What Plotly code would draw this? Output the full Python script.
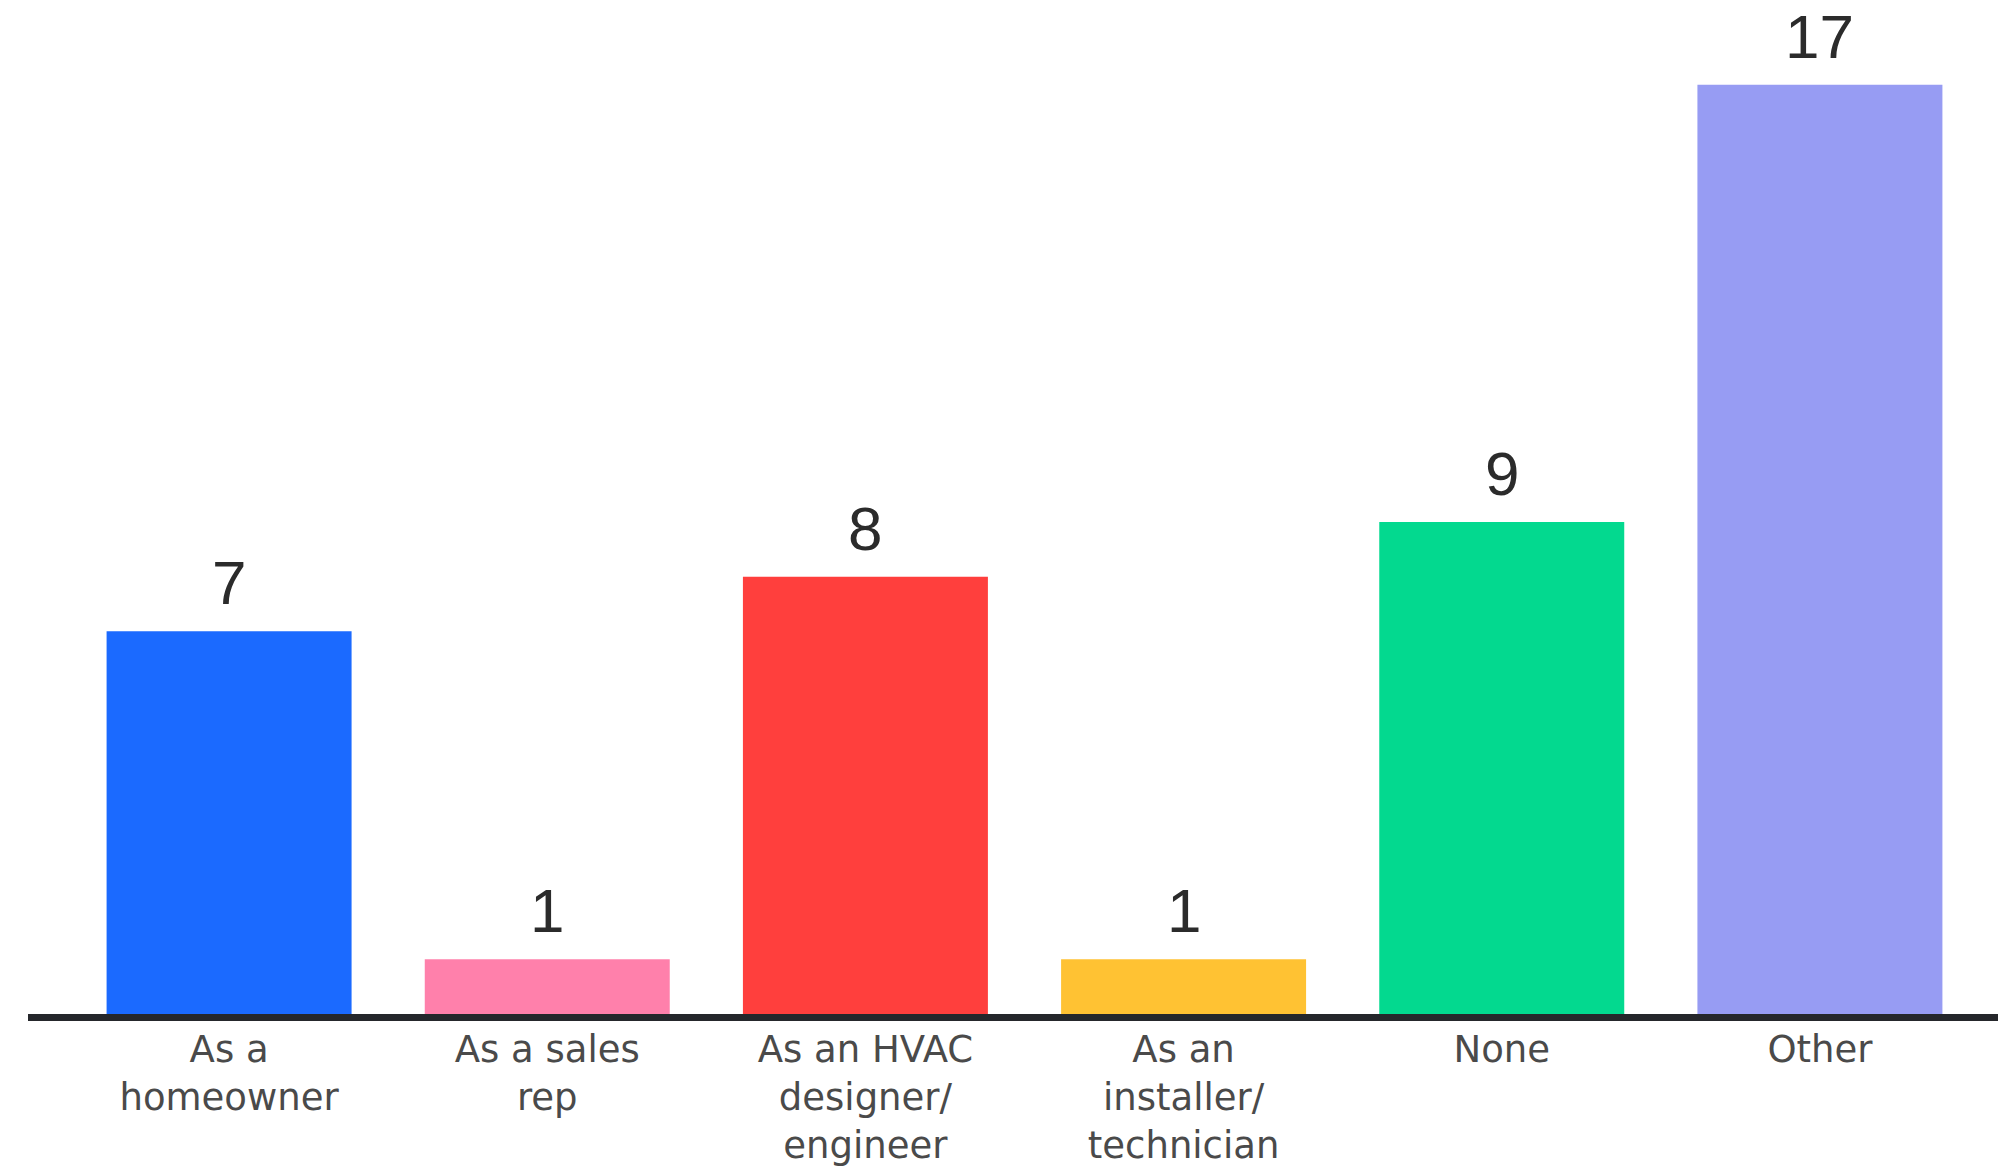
import plotly.graph_objects as go

# Survey responses by role
categories = [
    "As a<br>homeowner",
    "As a sales<br>rep",
    "As an HVAC<br>designer/<br>engineer",
    "As an<br>installer/<br>technician",
    "None",
    "Other",
]
counts = [7, 1, 8, 1, 9, 17]
bar_colors = ["#1B6AFF", "#FF80AB", "#FF3F3D", "#FFC233", "#03D98F", "#979CF3"]

W, H = 1998, 1171
margin = dict(l=70, r=19, t=30, b=157)
plot_w = W - margin["l"] - margin["r"]
plot_h = H - margin["t"] - margin["b"]

fig = go.Figure(
    go.Bar(
        x=categories,
        y=counts,
        marker=dict(color=bar_colors, line=dict(width=0)),
        hoverinfo="skip",
    )
)

# Value labels above each bar
for cat, val in zip(categories, counts):
    fig.add_annotation(
        x=cat, y=val, text=str(val), showarrow=False,
        xref="x", yref="y", yanchor="bottom", yshift=12,
        font=dict(family="Liberation Sans, Arial, sans-serif", size=62, color="#2b2b2b"),
    )

# Dark baseline running across the full width
fig.add_shape(
    type="line", xref="paper", yref="paper",
    x0=(28 - margin["l"]) / plot_w,
    x1=(W - margin["l"] + 5) / plot_w,
    y0=-3.5 / plot_h, y1=-3.5 / plot_h,
    line=dict(color="#25272B", width=7),
    layer="above",
)

fig.update_layout(
    width=W, height=H,
    margin=margin,
    paper_bgcolor="white",
    plot_bgcolor="white",
    bargap=0.23,
    showlegend=False,
    xaxis=dict(
        showline=False, showgrid=False, zeroline=False, ticks="",
        tickfont=dict(family="DejaVu Sans, sans-serif", size=37, color="#4a4a4a"),
        ticklabelstandoff=10,
        automargin=False,
        fixedrange=True,
    ),
    yaxis=dict(
        range=[0, 18], visible=False, showgrid=False, zeroline=False,
        automargin=False,
        fixedrange=True,
    ),
)

fig.write_html("out.html")
